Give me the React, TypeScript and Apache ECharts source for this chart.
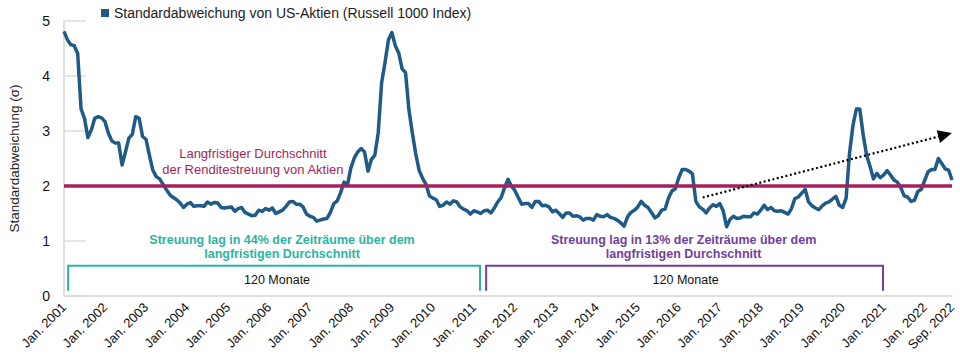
import React, { useEffect, useRef } from "react";
import * as echarts from "echarts";

// Monthly cross-sectional standard deviation, Jan 2001 .. Sep 2022
const dispersion: number[] = [
  4.81, 4.66, 4.57, 4.55, 4.41, 3.40, 3.23, 2.88, 3.02, 3.23, 3.26, 3.24, // 2001
  3.17, 2.96, 2.82, 2.78, 2.78, 2.38, 2.62, 2.87, 2.94, 3.26, 3.23, 2.90, // 2002
  2.85, 2.56, 2.29, 2.17, 2.13, 2.03, 1.93, 1.84, 1.79, 1.75, 1.69, 1.61, // 2003
  1.67, 1.70, 1.63, 1.64, 1.64, 1.63, 1.71, 1.67, 1.70, 1.69, 1.61, 1.60, // 2004
  1.61, 1.62, 1.54, 1.59, 1.61, 1.52, 1.49, 1.46, 1.47, 1.56, 1.54, 1.59, // 2005
  1.56, 1.60, 1.50, 1.53, 1.56, 1.63, 1.71, 1.72, 1.67, 1.67, 1.62, 1.49, // 2006
  1.45, 1.43, 1.36, 1.38, 1.40, 1.41, 1.52, 1.68, 1.73, 1.88, 2.07, 2.02, // 2007
  2.33, 2.51, 2.62, 2.68, 2.62, 2.27, 2.48, 2.56, 2.97, 3.88, 4.25, 4.66, // 2008
  4.79, 4.55, 4.42, 4.13, 4.06, 3.38, 2.96, 2.58, 2.28, 2.14, 2.03, 1.82, // 2009
  1.78, 1.75, 1.63, 1.65, 1.71, 1.67, 1.73, 1.71, 1.62, 1.58, 1.55, 1.49, // 2010
  1.55, 1.53, 1.50, 1.55, 1.56, 1.51, 1.60, 1.71, 1.79, 1.97, 2.12, 2.00, // 2011
  1.92, 1.79, 1.67, 1.68, 1.68, 1.61, 1.72, 1.72, 1.64, 1.65, 1.62, 1.53, // 2012
  1.56, 1.50, 1.43, 1.51, 1.51, 1.45, 1.46, 1.44, 1.38, 1.41, 1.41, 1.38, // 2013
  1.48, 1.45, 1.44, 1.48, 1.43, 1.41, 1.38, 1.33, 1.27, 1.44, 1.52, 1.56, // 2014
  1.62, 1.72, 1.65, 1.61, 1.52, 1.42, 1.46, 1.56, 1.58, 1.78, 1.91, 1.95, // 2015
  2.15, 2.30, 2.30, 2.27, 2.22, 1.72, 1.62, 1.58, 1.51, 1.60, 1.66, 1.63, // 2016
  1.68, 1.55, 1.26, 1.39, 1.45, 1.41, 1.42, 1.45, 1.44, 1.44, 1.51, 1.49, // 2017
  1.56, 1.65, 1.57, 1.61, 1.55, 1.54, 1.55, 1.52, 1.49, 1.59, 1.77, 1.80, // 2018
  1.87, 1.94, 1.71, 1.64, 1.60, 1.57, 1.64, 1.69, 1.71, 1.76, 1.81, 1.65, // 2019
  1.61, 1.78, 2.60, 3.10, 3.40, 3.40, 2.93, 2.56, 2.36, 2.13, 2.23, 2.15, // 2020
  2.20, 2.28, 2.20, 2.11, 2.07, 1.97, 1.82, 1.80, 1.72, 1.74, 1.90, 1.94, // 2021
  2.10, 2.26, 2.30, 2.30, 2.50, 2.41, 2.31, 2.29, 2.11, // 2022 (Jan..Sep)
];

const firstYear = 2001;
const monthAbbr = ["Jan.", "Feb.", "März", "Apr.", "Mai", "Juni", "Juli", "Aug.", "Sep.", "Okt.", "Nov.", "Dez."];
const categories: string[] = dispersion.map(
  (_, i) => `${monthAbbr[i % 12]} ${firstYear + Math.floor(i / 12)}`
);

const longTermAverage = 2;
const seriesName = "Standardabweichung von US-Aktien (Russell 1000 Index)";
const yAxisName = "Standardabweichung (σ)";
const averageLabel = "Langfristiger Durchschnitt\nder Renditestreuung von Aktien";
const periodTexts = [
  "Streuung lag in 44% der Zeiträume über dem\nlangfristigen Durchschnitt",
  "Streuung lag in 13% der Zeiträume über dem\nlangfristigen Durchschnitt",
];
const periodLabel = "120 Monate";
// bracket spans in month index units
const periodSpans: [number, number][] = [
  [1.2, 121.8],
  [123.6, 239.8],
];
const trendArrow: [number, number][] = [
  [187, 1.79],
  [258, 2.93],
];

const FONT = "'Liberation Sans', Arial, Helvetica, sans-serif";
const BLUE = "#1f5b86";
const CRIMSON = "#a61f5e";
const TEAL = "#2ab5a2";
const PURPLE = "#7040a0";

export default function App() {
  const ref = useRef<HTMLDivElement>(null);

  useEffect(() => {
    if (!ref.current) return;
    const chart = echarts.init(ref.current, undefined, { renderer: "svg" });
    const last = dispersion.length - 1;
    chart.setOption({
      animation: false,
      textStyle: { fontFamily: FONT },
      grid: {
        left: 64,
        right: 8,
        top: 21,
        bottom: 63,
        containLabel: false,
        outerBoundsMode: "none",
      },
      legend: {
        data: [{ name: seriesName, icon: "rect" }],
        left: 96,
        top: 1,
        itemWidth: 8,
        itemHeight: 8,
        itemGap: 6,
        textStyle: { fontSize: 14, color: "#222", fontFamily: FONT },
      },
      xAxis: {
        type: "category",
        data: categories,
        boundaryGap: false,
        axisLine: { show: true, lineStyle: { color: "#d6d6d6", width: 1.5 } },
        axisTick: { show: false },
        splitLine: { show: false },
        axisLabel: {
          rotate: 45,
          interval: (i: number) => i % 12 === 0 || i === last,
          fontSize: 13,
          color: "#111",
          margin: 9,
          fontFamily: FONT,
        },
      },
      yAxis: {
        type: "value",
        min: 0,
        max: 5,
        interval: 1,
        name: yAxisName,
        nameLocation: "middle",
        nameGap: 43,
        nameTextStyle: { fontSize: 13.5, color: "#222", fontFamily: FONT },
        axisLine: { show: true, lineStyle: { color: "#d6d6d6", width: 1.5 } },
        axisTick: { show: true, inside: true, length: 22, lineStyle: { color: "#dcdcdc", width: 1.5 } },
        splitLine: { show: false },
        axisLabel: { fontSize: 14, color: "#111", margin: 14, fontFamily: FONT },
      },
      series: [
        {
          name: "avg",
          type: "line",
          data: [],
          z: 1,
          silent: true,
          markLine: {
            silent: true,
            symbol: ["none", "none"],
            label: { show: false },
            lineStyle: { color: CRIMSON, width: 3.5, type: "solid" },
            data: [{ yAxis: longTermAverage }],
          },
        },
        {
          name: seriesName,
          type: "line",
          data: dispersion,
          z: 2,
          showSymbol: false,
          symbol: "none",
          itemStyle: { color: BLUE },
          lineStyle: { color: BLUE, width: 3.5, join: "round" },
        },
        {
          name: "trend",
          type: "line",
          data: [],
          z: 3,
          silent: true,
          markLine: {
            silent: true,
            symbol: ["none", "triangle"],
            symbolSize: [13, 14],
            label: { show: false },
            lineStyle: { color: "#000", width: 2.2, type: [2, 2.5] },
            data: [
              [
                { coord: [trendArrow[0][0], trendArrow[0][1]] },
                { coord: [trendArrow[1][0], trendArrow[1][1]] },
              ],
            ],
          },
        },
      ],
    });

    const p0 = chart.convertToPixel({ xAxisIndex: 0, yAxisIndex: 0 }, [0, 0]) as number[];
    const p1 = chart.convertToPixel({ xAxisIndex: 0, yAxisIndex: 0 }, [last, 1]) as number[];
    const xAt = (m: number) => p0[0] + ((p1[0] - p0[0]) * m) / last;
    const yAt = (v: number) => p0[1] + (p1[1] - p0[1]) * v;

    const colors = [TEAL, PURPLE];
    const graphics: any[] = [
      {
        type: "text",
        x: xAt(55.3),
        y: yAt(2.45),
        style: {
          text: averageLabel,
          fill: CRIMSON,
          fontSize: 13,
          fontFamily: FONT,
          align: "center",
          verticalAlign: "middle",
          lineHeight: 16,
        },
      },
    ];
    periodSpans.forEach(([a, b], k) => {
      const xa = xAt(a);
      const xb = xAt(b);
      const yTop = yAt(0.55);
      const yBot = yAt(0.096);
      const mid = (xa + xb) / 2;
      graphics.push({
        type: "polyline",
        shape: { points: [[xa, yBot], [xa, yTop], [xb, yTop], [xb, yBot]] },
        style: { stroke: colors[k], lineWidth: 2, fill: "none" },
      });
      graphics.push({
        type: "text",
        x: mid + (k === 0 ? 3 : 1),
        y: yAt(0.29),
        style: {
          text: periodLabel,
          fill: "#111",
          fontSize: 12.5,
          fontFamily: FONT,
          align: "center",
          verticalAlign: "middle",
        },
      });
      graphics.push({
        type: "text",
        x: mid + (k === 0 ? 8 : -1),
        y: yAt(0.89),
        style: {
          text: periodTexts[k],
          fill: colors[k],
          fontSize: 12.5,
          fontWeight: "bold",
          fontFamily: FONT,
          align: "center",
          verticalAlign: "middle",
          lineHeight: 14.5,
        },
      });
    });
    chart.setOption({ graphic: graphics });

    return () => chart.dispose();
  }, []);

  return (
    <div
      ref={ref}
      style={{ position: "fixed", left: 0, top: 0, width: 960, height: 359, background: "#fff" }}
    />
  );
}
